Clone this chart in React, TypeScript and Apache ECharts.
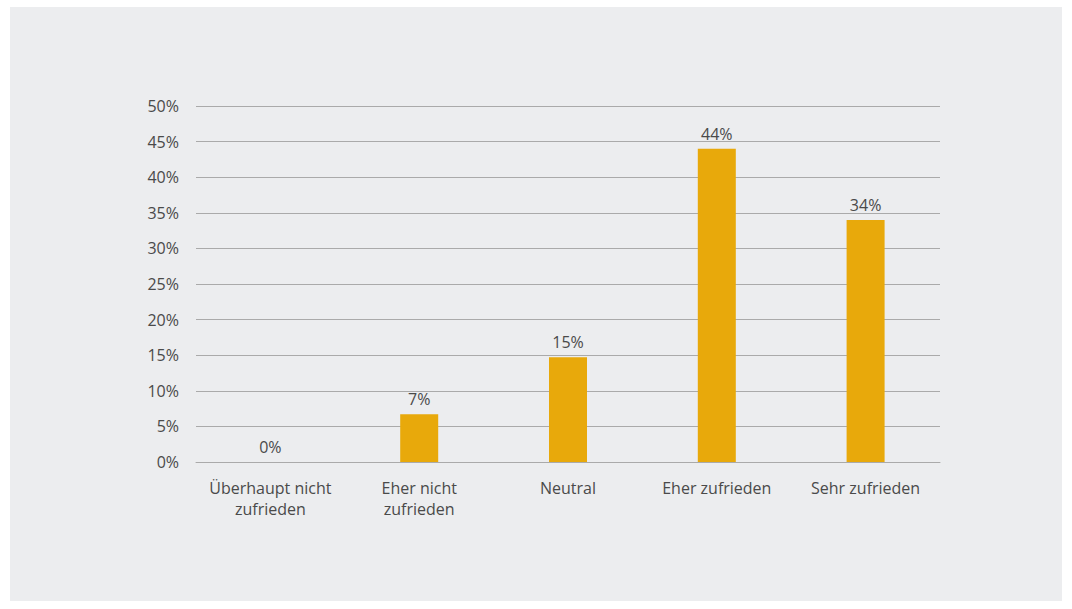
import React, { useEffect, useRef } from "react";
import * as echarts from "echarts";

const categories = ["Überhaupt nicht\nzufrieden", "Eher nicht\nzufrieden", "Neutral", "Eher zufrieden", "Sehr zufrieden"];
const values = [0, 6.7, 14.7, 44, 34];
const yTicks = [0, 5, 10, 15, 20, 25, 30, 35, 40, 45, 50];

export default function App() {
  const ref = useRef<HTMLDivElement>(null);
  useEffect(() => {
    if (!ref.current) return;
    const chart = echarts.init(ref.current, null, { renderer: "svg" });
    const font = "'Open Sans', 'Noto Sans', sans-serif";
    chart.setOption({
      animation: false,
      backgroundColor: "#ffffff",
      textStyle: { fontFamily: font },
      graphic: [
        { type: "rect", z: -10, shape: { x: 10, y: 7, width: 1052, height: 594 }, style: { fill: "#ecedef" }, silent: true },
      ],
      grid: { left: 196, right: 132, top: 106, bottom: 147, containLabel: false },
      xAxis: {
        type: "category",
        data: categories,
        axisLine: { show: true, lineStyle: { color: "#aaaaaa", width: 1 } },
        axisTick: { show: false },
        axisLabel: { color: "#4a4a4a", fontSize: 16, lineHeight: 21, margin: 15, interval: 0, fontFamily: font },
      },
      yAxis: {
        type: "value",
        min: yTicks[0],
        max: yTicks[yTicks.length - 1],
        interval: 5,
        axisLine: { show: false },
        axisTick: { show: false },
        splitLine: { lineStyle: { color: "#aaaaaa", width: 1 } },
        axisLabel: {
          color: "#4a4a4a",
          fontSize: 16,
          margin: 17,
          padding: [0, 0, 5, 0],
          formatter: (v: number) => v + "%",
          fontFamily: font,
        },
      },
      series: [
        {
          type: "bar",
          data: values,
          barWidth: 38,
          itemStyle: { color: "#e8a90b" },
          label: {
            show: true,
            position: "top",
            distance: 7,
            color: "#4a4a4a",
            fontSize: 16,
            fontFamily: font,
            formatter: (p: any) => Math.round(p.value) + "%",
          },
        },
      ],
    });
    return () => chart.dispose();
  }, []);
  return <div ref={ref} style={{ position: "absolute", left: 0, top: 0, width: 1072, height: 609 }} />;
}
